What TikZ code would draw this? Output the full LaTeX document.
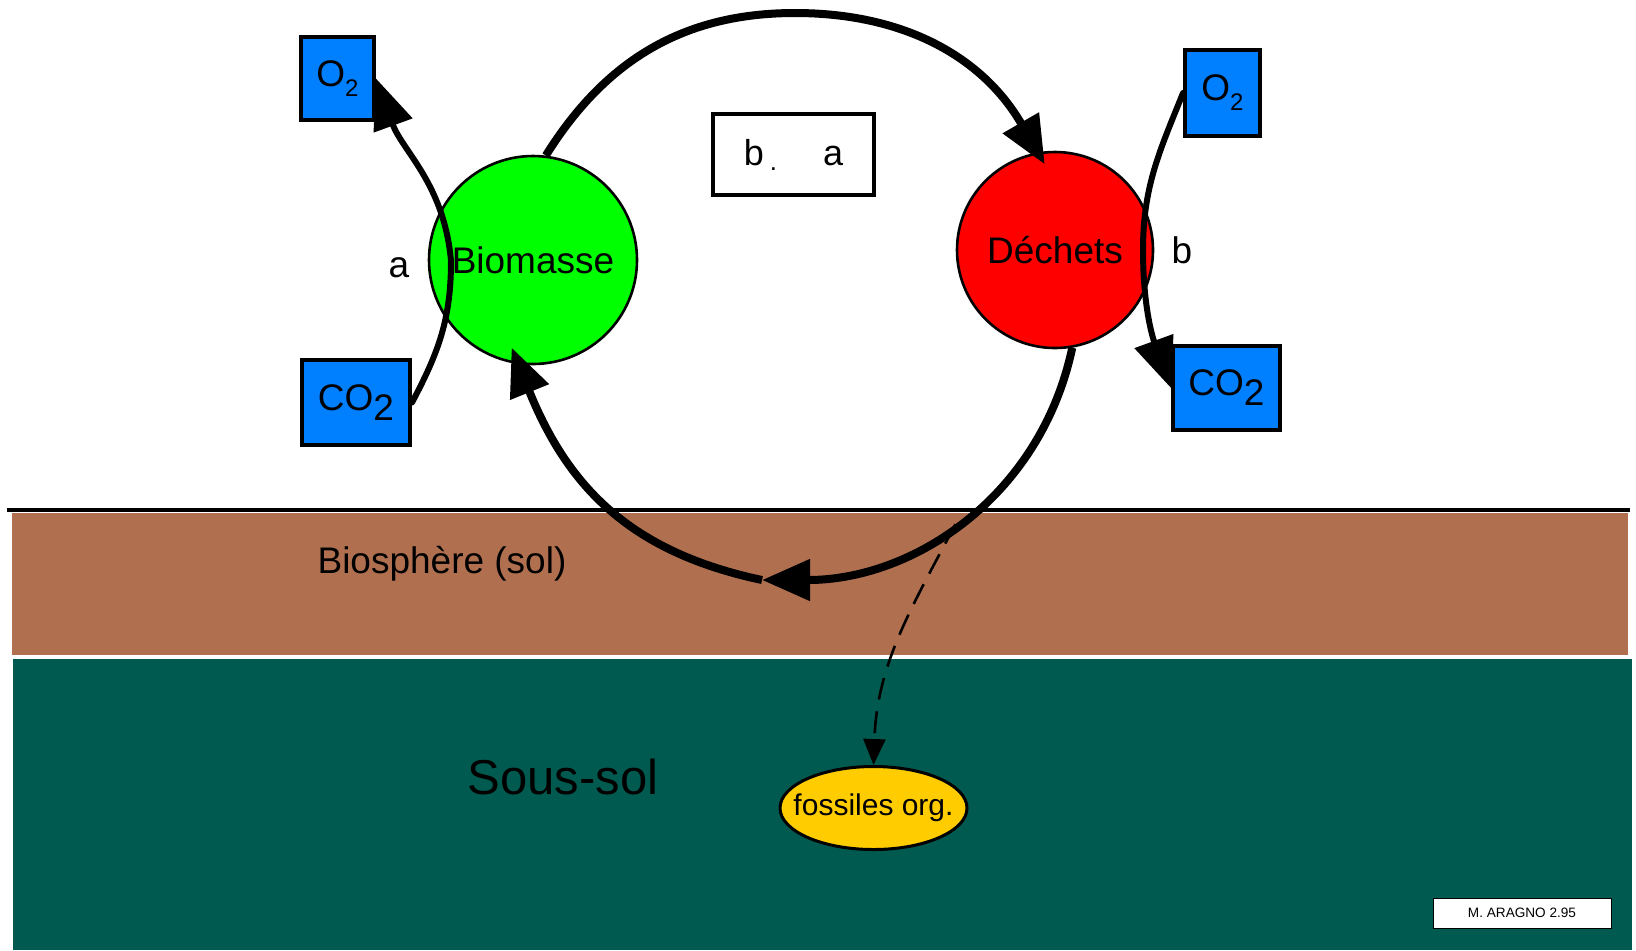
\documentclass[tikz,border=0pt]{standalone}
\usepackage{fontspec}
\setmainfont{Liberation Sans}
\usetikzlibrary{arrows.meta,shapes.geometric}
\definecolor{bioGreen}{RGB}{0,255,0}
\definecolor{wasteRed}{RGB}{255,0,0}
\definecolor{gasBlue}{RGB}{0,128,255}
\definecolor{fossilYellow}{RGB}{255,204,0}
\definecolor{soilBrown}{RGB}{176,112,80}
\definecolor{subsoilGreen}{RGB}{0,90,80}
\begin{document}
\begin{tikzpicture}[x=0.5pt,y=-0.5pt,
  lbl/.style={font=\fontsize{18.5}{22}\selectfont, inner sep=0pt},
  gasbox/.style={draw, line width=2pt, fill=gasBlue, inner sep=0pt, font=\fontsize{18.5}{22}\selectfont},
  pool/.style={circle, draw, line width=1.3pt, inner sep=0pt, font=\fontsize{18.5}{22}\selectfont},
  cyclearrow/.style={line width=4pt, -{Triangle[length=24pt,width=20pt]}},
  exch/.style={line width=3pt, line cap=round, -{Triangle[length=25pt,width=20pt]}},
  fossarrow/.style={line width=1.3pt, dash pattern=on 11pt off 6pt, -{Triangle[length=13pt,width=11pt]}}
]
\useasboundingbox (0,0) rectangle (1636,950);
% soil layers
\fill[soilBrown] (12,513) rectangle (1628,655);
\fill[subsoilGreen] (13,659) rectangle (1632,950);
\draw[line width=1.7pt] (7,510) -- (1630,510);
\node[lbl] (biosph) at (442,564) {Biosphère (sol)};
\node[lbl, font=\fontsize{24.5}{28}\selectfont] (soussol) at (563,777) {Sous-sol};
\node[draw, line width=0.5pt, fill=white, minimum width=89pt, minimum height=15pt, inner sep=0pt, font=\fontsize{6.8}{8}\selectfont] (credit) at (1522,913) {M. ARAGNO 2.95};
% pools
\node[pool, fill=bioGreen, minimum size=104pt] (bio) at (533,260) {Biomasse};
\node[pool, fill=wasteRed, minimum size=98pt] (dech) at (1055,250) {Déchets};
% gas boxes
\node[gasbox, minimum width=36.5pt, minimum height=41.5pt] (o2l) at (337.5,78.5) {O\raisebox{-5pt}{\fontsize{12}{12}\selectfont 2}};
\node[gasbox, minimum width=54pt, minimum height=42.5pt] (co2l) at (356,402.5) {CO\raisebox{-5pt}{2}};
\node[gasbox, minimum width=37.5pt, minimum height=43pt] (o2r) at (1222.5,93) {O\raisebox{-5pt}{\fontsize{12}{12}\selectfont 2}};
\node[gasbox, minimum width=53.5pt, minimum height=42pt] (co2r) at (1226.5,388) {CO\raisebox{-5pt}{2}};
% ratio box and labels
\node[draw, line width=1.6pt, minimum width=80.5pt, minimum height=40.5pt, inner sep=0pt, font=\fontsize{18}{22}\selectfont] (ratio) at (793.5,154.5) {b\hspace{3pt}\raisebox{-2.5pt}{\fontsize{13}{13}\selectfont .}\hspace{23pt}a};
\node[lbl] (la) at (399,268) {a};
\node[lbl] (lb) at (1182,250) {b};
% exchanges with atmosphere
\draw[exch] (co2l.east) to[out=62,in=-90] (451,261) to[out=95,in=-70] (o2l.east);
\draw[exch] (o2r.west) to[out=-112,in=90] (1143,250) to[out=-90,in=110] (co2r.west);
% main cycle
\draw[cyclearrow, shorten >=-7pt] (bio.83) to[out=58,in=180] (795,13) to[out=0,in=120] (dech.100);
\coordinate (mid) at (762,580);
\draw[cyclearrow] (dech.-80) to[out=-102,in=0] coordinate[pos=0.52] (sp) (mid);
\draw[cyclearrow, shorten >=-9pt] (mid) to[out=168,in=-68,looseness=1.05] (bio.-98);
% fossil
\node[ellipse, draw, line width=1.5pt, fill=fossilYellow, minimum width=93.5pt, minimum height=41.5pt, inner sep=0pt, font=\fontsize{15}{18}\selectfont] (fos) at (873.5,808) {\makebox[0pt]{fossiles org.}};
\draw[fossarrow] (sp) to[out=-118,in=88] (fos.north);
\end{tikzpicture}
\end{document}
